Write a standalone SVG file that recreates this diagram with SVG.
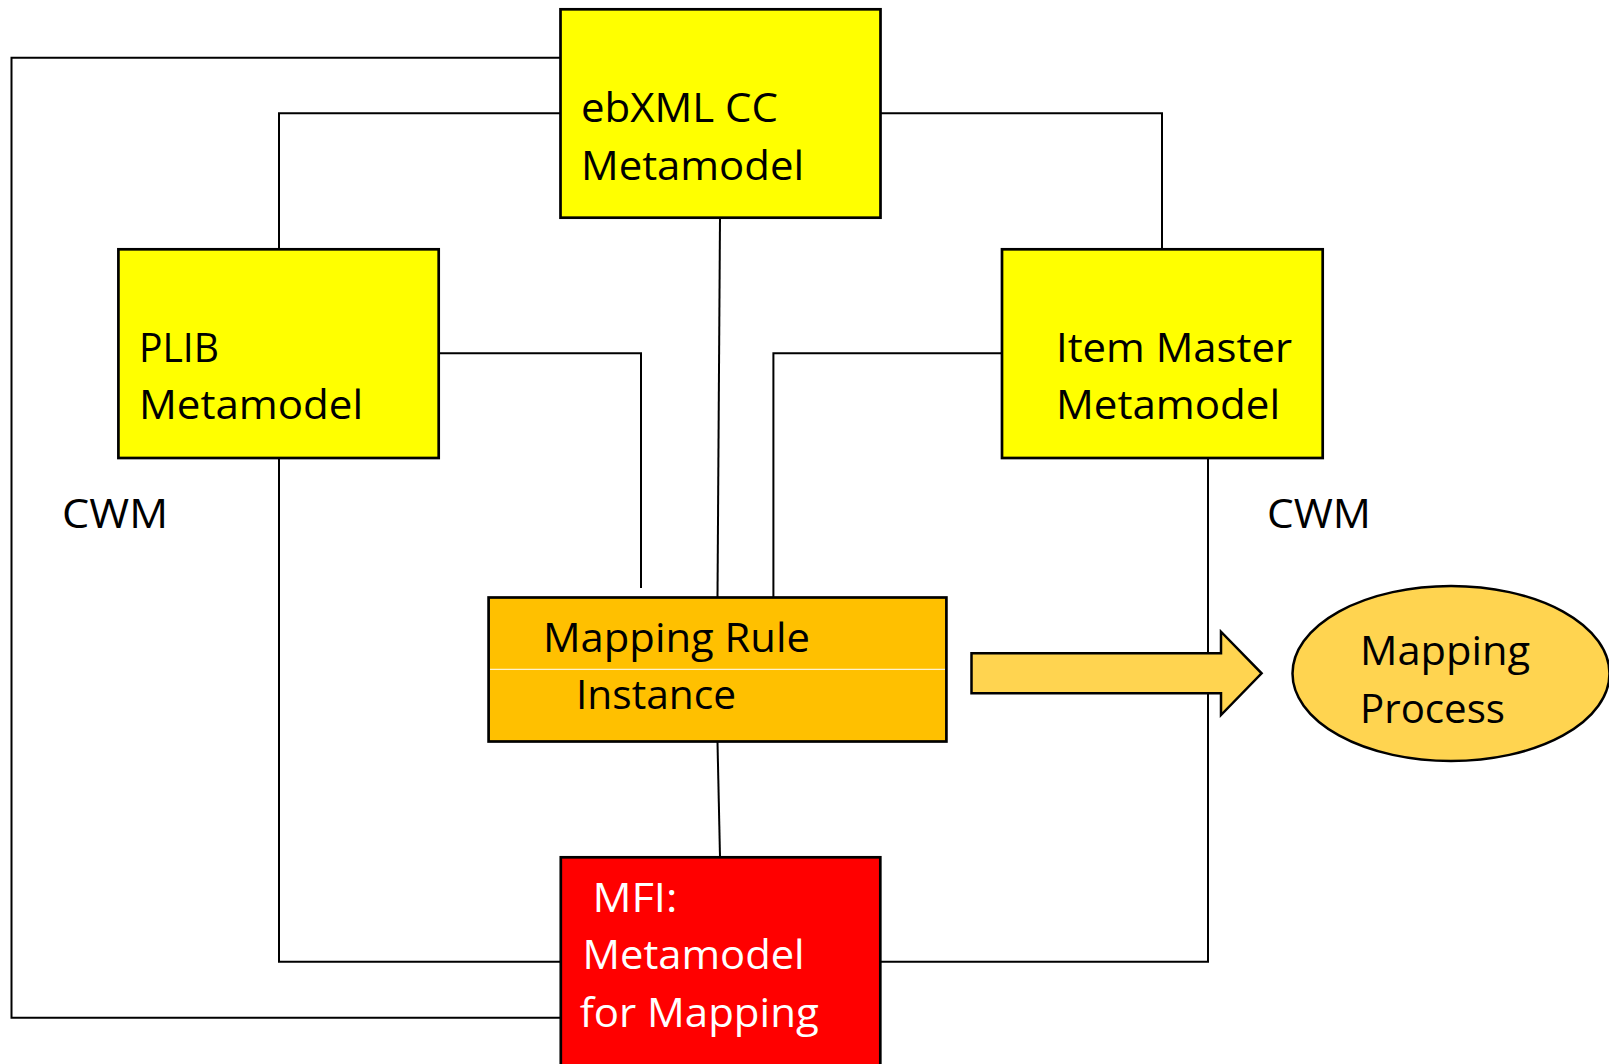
<svg xmlns="http://www.w3.org/2000/svg" width="1609" height="1064" viewBox="0 0 1609 1064">
<style>
.box{stroke:#000;stroke-width:2.7}
.conn{fill:none;stroke:#000;stroke-width:2}
.t{font-family:"Open Sans","Liberation Sans",sans-serif;font-size:40px;fill:#000}
.w{fill:#fff}
</style>
<rect width="1609" height="1064" fill="#fff"/>
<g id="connectors">
<path class="conn" d="M560 57.7 H11.5 V1017.7 H560"/>
<path class="conn" d="M560 113.3 H279 V249"/>
<path class="conn" d="M880 113.3 H1162 V249"/>
<path class="conn" d="M720 218 L717.5 597"/>
<path class="conn" d="M438.7 353.3 H641 V588"/>
<path class="conn" d="M1002 353.3 H773.4 V600.7"/>
<path class="conn" d="M279 458 V961.7 H560"/>
<path class="conn" d="M1208 458 V961.7 H880"/>
<path class="conn" d="M717.5 742 L720 857"/>
</g>
<g id="ebxml">
<rect class="box" x="560.5" y="9.3" width="320" height="208.4" fill="#ffff00"/>
<text class="t" x="581" y="121.7" textLength="197" lengthAdjust="spacingAndGlyphs">ebXML CC</text>
<text class="t" x="581" y="180" textLength="223" lengthAdjust="spacingAndGlyphs">Metamodel</text>
</g>
<g id="plib">
<rect class="box" x="118.4" y="249.3" width="320.3" height="208.7" fill="#ffff00"/>
<text class="t" x="139" y="361.7" textLength="80" lengthAdjust="spacingAndGlyphs">PLIB</text>
<text class="t" x="139" y="419.3" textLength="224" lengthAdjust="spacingAndGlyphs">Metamodel</text>
</g>
<g id="itemmaster">
<rect class="box" x="1002" y="249.3" width="320.7" height="208.7" fill="#ffff00"/>
<text class="t" x="1056" y="361.7" textLength="236" lengthAdjust="spacingAndGlyphs">Item Master</text>
<text class="t" x="1056" y="419.3" textLength="224" lengthAdjust="spacingAndGlyphs">Metamodel</text>
</g>
<g id="cwm-left">
<text class="t" x="62" y="527.7" textLength="106" lengthAdjust="spacingAndGlyphs">CWM</text>
</g>
<g id="cwm-right">
<text class="t" x="1267" y="527.7" textLength="104" lengthAdjust="spacingAndGlyphs">CWM</text>
</g>
<g id="mappingrule">
<rect class="box" x="488.6" y="597.5" width="457.8" height="144" fill="#ffc000"/>
<line x1="490" y1="669.3" x2="945" y2="669.3" stroke="#fff" stroke-width="1"/>
<text class="t" x="543" y="651.7" textLength="267" lengthAdjust="spacingAndGlyphs">Mapping Rule</text>
<text class="t" x="576" y="709" textLength="160" lengthAdjust="spacingAndGlyphs">Instance</text>
</g>
<g id="arrow">
<path d="M971.5 653.3 H1221 V631.7 L1261.6 673.3 L1221 715 V693.3 H971.5 Z" fill="#ffd450" stroke="#000" stroke-width="2.5"/>
</g>
<g id="mappingprocess">
<ellipse cx="1451" cy="673.5" rx="158.5" ry="87.5" fill="#ffd450" stroke="#000" stroke-width="2.5"/>
<text class="t" x="1360" y="665" textLength="170" lengthAdjust="spacingAndGlyphs">Mapping</text>
<text class="t" x="1360" y="722.7" textLength="145" lengthAdjust="spacingAndGlyphs">Process</text>
</g>
<g id="mfi">
<rect class="box" x="560.8" y="857.3" width="319.5" height="215" fill="#ff0000"/>
<text class="t w" x="592.4" y="911.7" textLength="85" lengthAdjust="spacingAndGlyphs">MFI:</text>
<text class="t w" x="582.6" y="969.3" textLength="222" lengthAdjust="spacingAndGlyphs">Metamodel</text>
<text class="t w" x="579.7" y="1026.7" textLength="239" lengthAdjust="spacingAndGlyphs">for Mapping</text>
</g>
</svg>
